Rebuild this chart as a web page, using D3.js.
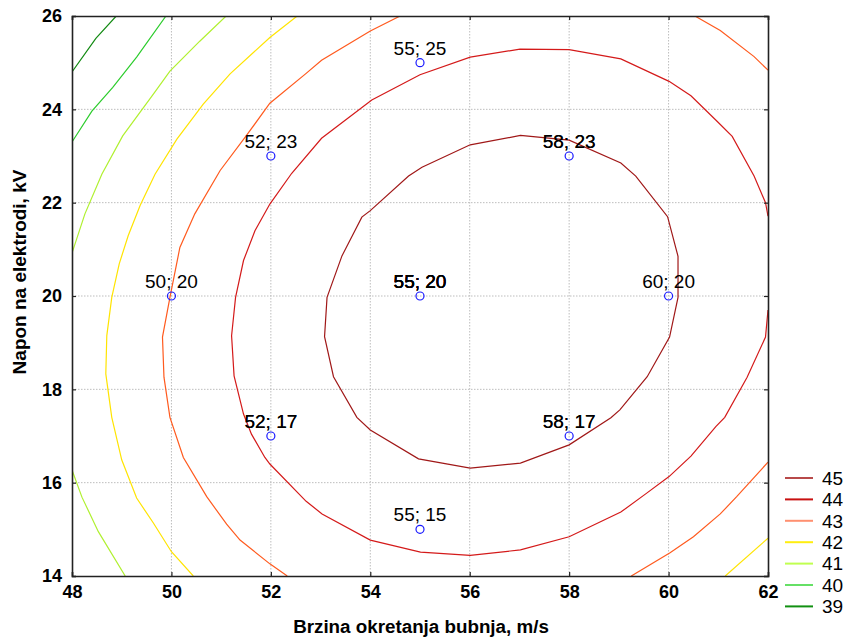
<!DOCTYPE html>
<html><head><meta charset="utf-8">
<script src="https://cdn.jsdelivr.net/npm/d3@7"></script>
<style>body{margin:0;background:#fff} text{font-family:"Liberation Sans",Arial,sans-serif}</style>
</head><body><svg id="chart" width="848" height="639"></svg>
<script>
// ---- data ----
const xTicks = [48, 50, 52, 54, 56, 58, 60, 62];
const yTicks = [14, 16, 18, 20, 22, 24, 26];
const levels = [45, 44, 43, 42, 41, 40, 39];
const xTitle = "Brzina okretanja bubnja, m/s";
const yTitle = "Napon na elektrodi, kV";

// design points (speed m/s ; voltage kV) and number of replicates
const pointX = [50, 52, 52, 55, 55, 55, 58, 58, 60];
const pointY = [20, 23, 17, 25, 20, 15, 23, 17, 20];
const pointReps = [1, 1, 2, 1, 4, 1, 2, 2, 1];

// contour polylines, [speed, voltage]
const contour45 = [[
  [53.13,19.97],[53.43,20.86],[53.83,21.69],[54.0,21.83],[54.77,22.57],[55.04,22.76],
  [56.01,23.24],[57.02,23.44],[58.0,23.34],[59.04,22.85],[59.34,22.57],[59.98,21.70],
  [60.19,20.85],[60.19,19.97],[60.02,19.12],[59.57,18.27],[59.02,17.56],[58.84,17.39],
  [58.0,16.81],[57.02,16.42],[56.01,16.31],[54.97,16.51],[54.0,17.13],[53.73,17.40],
  [53.26,18.27],[53.08,19.13],[53.13,19.97]
]];
const contour44 = [[
  [62,19.70],[61.95,19.12],[61.58,18.26],[61.13,17.40],[60.95,17.20],[60.45,16.57],
  [60.01,16.13],[59.54,15.76],[59.04,15.37],[58.0,14.84],[57.02,14.56],[56.01,14.44],
  [55.01,14.51],[54.0,14.77],[53.03,15.33],[52.71,15.60],[51.98,16.40],[51.88,16.54],
  [51.61,17.04],[51.45,17.47],[51.26,18.29],[51.21,19.15],[51.29,19.97],[51.45,20.76],
  [51.68,21.40],[51.98,21.97],[52.42,22.63],[53.02,23.38],[54.03,24.20],[55.0,24.74],
  [56.01,25.12],[57.01,25.29],[58.0,25.28],[59.04,25.08],[60.01,24.60],[60.45,24.29],
  [60.98,23.74],[61.28,23.42],[61.72,22.57],[61.95,22.0],[62,21.71]
]];
const contour43 = [
  [[54.60,26],[54.0,25.68],[53.02,25.05],[52.71,24.77],[51.98,24.13],[51.51,23.44],
   [50.98,22.69],[50.47,21.76],[50.17,21.04],[49.97,19.97],[49.82,19.12],[49.85,18.26],
   [49.97,17.40],[50.24,16.54],[50.71,15.70],[51.11,15.11],[51.38,14.77],[51.98,14.26],[52.33,14]],
  [[60.53,26],[61.04,25.69],[61.72,25.13],[62,24.84]],
  [[62,16.44],[61.37,15.70],[61.04,15.33],[60.50,14.84],[60.03,14.50],[59.25,14]]
];
const contour42 = [
  [[52.53,26],[51.98,25.54],[51.18,24.76],[50.64,24.11],[50.11,23.36],[49.67,22.61],
   [49.37,21.94],[49.13,21.29],[48.95,20.69],[48.80,19.97],[48.70,19.15],[48.68,18.33],
   [48.80,17.40],[49.0,16.49],[49.30,15.67],[49.64,15.13],[50.0,14.52],[50.44,14]],
  [[62,14.81],[61.14,14]]
];
const contour41 = [
  [[51.10,26],[50.57,25.46],[49.97,24.82],[49.64,24.33],[49.02,23.43],[48.60,22.61],
   [48.26,21.76],[48,20.92]],
  [[48,16.27],[48.20,15.69],[48.53,14.95],[49.07,14]]
];
const contour40 = [
  [[49.89,26],[49.30,25.12],[48.82,24.47],[48.40,23.96],[48,23.30]]
];
const contour39 = [
  [[48.89,26],[48.48,25.52],[48,24.80]]
];
const contours = [contour45, contour44, contour43, contour42, contour41, contour40, contour39];
const lineColors = ["#a01818", "#d41a1a", "#ff5a1e", "#ffe400", "#b0f030", "#2ccc2c", "#128a12"];
const legendColors = ["#b84a4a", "#c81010", "#ff9070", "#ffee10", "#c0ff50", "#66e066", "#119011"];

// ---- drawing ----
const svg = d3.select("#chart");
const L = 72, R = 768, T = 16, B = 576;
const x = d3.scaleLinear().domain([48, 62]).range([L, R]);
const y = d3.scaleLinear().domain([14, 26]).range([B, T]);

svg.append("defs").append("clipPath").attr("id", "clip")
  .append("rect").attr("x", L).attr("y", T).attr("width", R - L).attr("height", B - T);

// grid
const grid = svg.append("g");
grid.selectAll("line.gx").data(xTicks.slice(1, -1)).enter().append("line")
  .attr("x1", d => x(d)).attr("x2", d => x(d)).attr("y1", T).attr("y2", B)
  .attr("stroke", "#bdbdbd").attr("stroke-dasharray", "1.5,1.5");
grid.selectAll("line.gy").data(yTicks.slice(1, -1)).enter().append("line")
  .attr("y1", d => y(d)).attr("y2", d => y(d)).attr("x1", L).attr("x2", R)
  .attr("stroke", "#bdbdbd").attr("stroke-dasharray", "1.5,1.5");

// contours
const line = d3.line().x(d => x(d[0])).y(d => y(d[1]));
const cg = svg.append("g").attr("clip-path", "url(#clip)");
contours.forEach((segs, i) => {
  segs.forEach(seg => {
    cg.append("path").attr("d", line(seg)).attr("fill", "none")
      .attr("stroke", lineColors[i]).attr("stroke-width", 1.2);
  });
});

// axes
const tickFont = g => g.selectAll("text").style("font-size", "18px").style("font-weight", "bold")
  .style("font-family", '"Liberation Sans",Arial,sans-serif').attr("fill", "#000");
const axB = svg.append("g").attr("transform", `translate(0,${B})`)
  .call(d3.axisBottom(x).tickValues(xTicks).tickSize(-4).tickPadding(9).tickFormat(d3.format("d")));
const axT = svg.append("g").attr("transform", `translate(0,${T})`)
  .call(d3.axisTop(x).tickValues(xTicks).tickSize(-4).tickFormat(""));
const axL = svg.append("g").attr("transform", `translate(${L},0)`)
  .call(d3.axisLeft(y).tickValues(yTicks).tickSize(-4).tickPadding(10).tickFormat(d3.format("d")));
const axR = svg.append("g").attr("transform", `translate(${R},0)`)
  .call(d3.axisRight(y).tickValues(yTicks).tickSize(-4).tickFormat(""));
[axB, axT, axL, axR].forEach(a => {
  a.select(".domain").attr("stroke", "#222").attr("stroke-width", 1.6);
  a.selectAll(".tick line").attr("stroke", "#222").attr("stroke-width", 1.2);
  tickFont(a);
});

// design points
const pts = pointX.map((px, i) => ({x: px, y: pointY[i], r: pointReps[i]}));
const pg = svg.append("g");
pts.forEach(p => {
  for (let k = 0; k < p.r; k++) {
    pg.append("text").attr("x", x(p.x)).attr("y", y(p.y) - 8)
      .attr("text-anchor", "middle").style("font-size", "19px").attr("fill", "#000")
      .text(`${p.x}; ${p.y}`);
  }
  pg.append("circle").attr("cx", x(p.x)).attr("cy", y(p.y)).attr("r", 4)
    .attr("fill", "none").attr("stroke", "#1a1aff").attr("stroke-width", 1.2);
});

// titles
svg.append("text").attr("x", 421).attr("y", 633).attr("text-anchor", "middle")
  .style("font-size", "18.8px").style("font-weight", "bold").text(xTitle);
svg.append("text").attr("transform", `translate(26,272) rotate(-90)`)
  .attr("text-anchor", "middle").style("font-size", "19px").style("font-weight", "bold").text(yTitle);

// legend
const lg = svg.append("g");
levels.forEach((lv, i) => {
  const ly = 478 + i * 21.4;
  lg.append("line").attr("x1", 785).attr("x2", 813).attr("y1", ly).attr("y2", ly)
    .attr("stroke", legendColors[i]).attr("stroke-width", 2);
  lg.append("text").attr("x", 822).attr("y", ly).attr("dy", "0.36em")
    .style("font-size", "19px").attr("fill", "#000").text(lv);
});
</script></body></html>
